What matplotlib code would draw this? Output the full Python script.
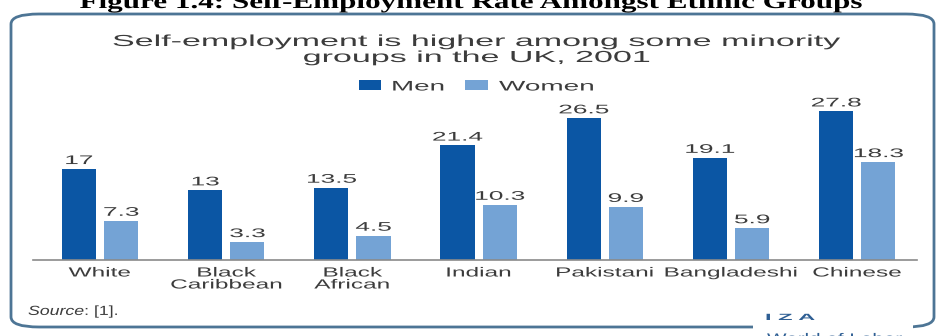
import numpy as np
import matplotlib.pyplot as plt
from matplotlib.patches import FancyBboxPatch, Rectangle
from matplotlib.patheffects import AbstractPathEffect
from matplotlib.transforms import Affine2D

plt.rcParams['font.family'] = ['Liberation Sans', 'DejaVu Sans']
plt.rcParams['mathtext.fontset'] = 'custom'
plt.rcParams['mathtext.rm'] = 'Liberation Sans'
plt.rcParams['mathtext.it'] = 'Liberation Sans:italic'

# self-employment rate (%), UK 2001
groups = ['White', 'Black\nCaribbean', 'Black\nAfrican', 'Indian',
          'Pakistani', 'Bangladeshi', 'Chinese']
men = [17, 13, 13.5, 21.4, 26.5, 19.1, 27.8]
women = [7.3, 3.3, 4.5, 10.3, 9.9, 5.9, 18.3]
series = ['Men', 'Women']

W, H = 937, 336
BLUE = '#0b56a4'
LIGHT = '#74a3d5'
GREY = '#3c3c3c'
FRAME = '#4d7595'


class Widen(AbstractPathEffect):
    """Draws text glyphs stretched sideways about the text's anchor."""

    def __init__(self, text, sx):
        super().__init__()
        self.text = text
        self.sx = sx

    def draw_path(self, renderer, gc, tpath, affine, rgbFace=None):
        x0 = self.text.get_transform().transform(self.text.get_position())[0]
        wide = Affine2D().translate(-x0, 0).scale(self.sx, 1).translate(x0, 0)
        renderer.draw_path(gc, tpath, affine + wide, rgbFace)


def widen(t, sx):
    t.set_path_effects([Widen(t, sx)])
    return sx


def fit(t, width):
    # stretch so the drawn text spans `width` pixels
    w = t.get_window_extent(fig.canvas.get_renderer()).width
    return widen(t, width / w)


def fx(x):
    return x / W


def fy(y):
    return 1 - y / H


fig = plt.figure(figsize=(W / 100, H / 100), dpi=100)

# rounded frame round the chart, broken at the bottom for the logo
frame = FancyBboxPatch((fx(11), fy(327)), fx(934) - fx(11), fy(14) - fy(327),
                       boxstyle='round,pad=0,rounding_size=0.03',
                       transform=fig.transFigure, facecolor='none',
                       edgecolor=FRAME, linewidth=2, zorder=1)
fig.patches.append(frame)
fig.patches.append(Rectangle((fx(753), fy(333)), fx(913) - fx(753), fy(320) - fy(333),
                             transform=fig.transFigure, facecolor='white',
                             edgecolor='none', zorder=2))

caption = fig.text(fx(472), fy(8), 'Figure 1.4: Self-Employment Rate Amongst Ethnic Groups',
                   family='Liberation Serif', weight='bold', fontsize=15,
                   ha='center', va='baseline', color='black')
fit(caption, 785)

t1 = fig.text(fx(477), fy(46), 'Self-employment is higher among some minority',
              fontsize=11.5, ha='center', va='baseline', color=GREY)
t2 = fig.text(fx(477), fy(62), 'groups in the UK, 2001',
              fontsize=11.5, ha='center', va='baseline', color=GREY)
widen(t2, fit(t1, 730))

# legend
for (x0, x1, tx, tw), name, col in zip([(359, 381, 391, 54), (465, 488, 499, 96)],
                                        series, [BLUE, LIGHT]):
    fig.patches.append(Rectangle((fx(x0), fy(90)), fx(x1) - fx(x0), fy(80) - fy(90),
                                 transform=fig.transFigure, facecolor=col,
                                 edgecolor='none', zorder=2))
    lt = fig.text(fx(tx), fy(85), name, fontsize=10, ha='left', va='center_baseline',
                  color=GREY)
    fit(lt, tw)

ax = fig.add_axes([fx(33), fy(259.5), fx(917) - fx(33), fy(99.5) - fy(259.5)])
ax.set_zorder(3)
ax.patch.set_alpha(0)
x = np.arange(len(groups))
off, bw = 0.167, 0.27
ax.bar(x - off, men, bw, color=BLUE, zorder=2)
ax.bar(x + off, women, bw, color=LIGHT, zorder=2)
ax.set_xlim(-0.531, 6.474)
ax.set_ylim(0, 30)
ax.set_xticks([])
ax.set_yticks([])
for s in ['left', 'right', 'top']:
    ax.spines[s].set_visible(False)
ax.spines['bottom'].set_color('#8a8a8a')
ax.spines['bottom'].set_linewidth(1.2)

for xs, vals in [(x - off, men), (x + off, women)]:
    for xi, v in zip(xs, vals):
        t = ax.text(xi, v + 0.9, f'{v:g}', ha='center', va='baseline',
                    fontsize=9, color=GREY)
        widen(t, 2.1)

for xi, g in zip(x, groups):
    t = ax.text(xi, -0.05, g, transform=ax.get_xaxis_transform(),
                ha='center', va='top', fontsize=9.5, color=GREY,
                multialignment='center', linespacing=1.0)
    widen(t, 1.85)

src = fig.text(fx(28), fy(315), r'$\it{Source}$: [1].', fontsize=9.5,
               ha='left', va='baseline', color=GREY)
fit(src, 92)

iza = fig.text(fx(765), fy(320), 'I Z A', fontsize=6.5, weight='bold',
               ha='left', va='baseline', color='#2f5f94', zorder=3)
fit(iza, 50)
wol = fig.text(fx(767), fy(343), 'World of Labor', fontsize=10,
               ha='left', va='baseline', color='#2f5f94', zorder=3)
fit(wol, 136)

fig.savefig('out.png', dpi=100, facecolor='white')
